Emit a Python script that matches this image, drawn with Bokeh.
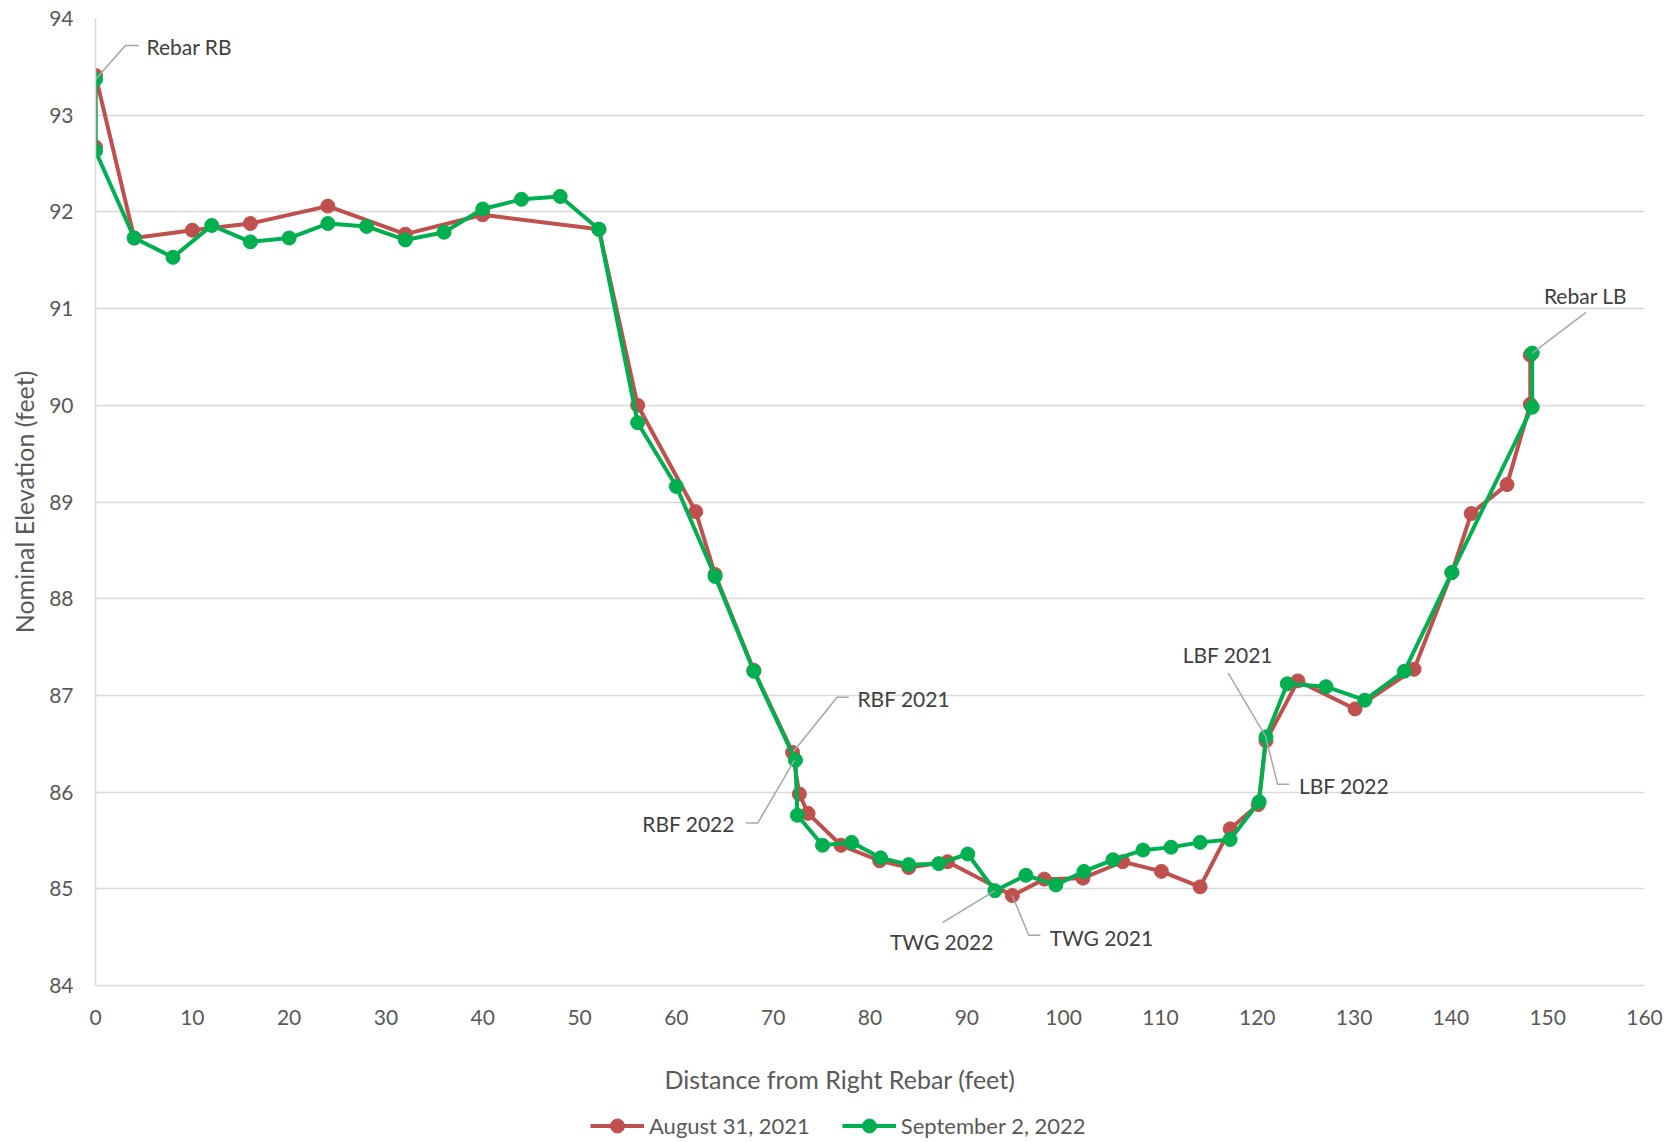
from bokeh.plotting import figure
from bokeh.layouts import column
from bokeh.models import (ColumnDataSource, Range1d, FixedTicker, Legend, LegendItem, Label)
from bokeh.core.properties import value
from bokeh.embed import file_html
from bokeh.resources import INLINE

# ---- data ----
x_2021 = [0, 0, 4, 10, 16, 24, 32, 40, 52, 56, 62, 64, 68, 72, 72.7, 73.6, 77, 81, 84, 88,
          94.7, 98, 102, 106.1, 110.1, 114.1, 117.2, 120.1, 120.9, 124.2, 130.1, 136.2,
          140.1, 142.1, 145.8, 148.2, 148.2]
y_2021 = [92.67, 93.41, 91.73, 91.81, 91.88, 92.06, 91.77, 91.97, 91.82, 90.0, 88.9, 88.25,
          87.26, 86.41, 85.98, 85.78, 85.45, 85.29, 85.22, 85.28, 84.93, 85.10, 85.11, 85.28,
          85.18, 85.02, 85.62, 85.87, 86.53, 87.15, 86.86, 87.27, 88.27, 88.88, 89.18, 90.01,
          90.52]

x_2022 = [0, 0, 4, 8, 12, 16, 20, 24, 28, 32, 36, 40, 44, 48, 52, 56, 60, 64, 68, 72.3, 72.5,
          75.1, 78.1, 81.1, 84, 87.1, 90.1, 92.9, 96.1, 99.2, 102.1, 105.1, 108.2, 111.1,
          114.1, 117.2, 120.2, 120.9, 123.1, 127.1, 131.1, 135.2, 140.1, 148.4, 148.4]
y_2022 = [93.37, 92.63, 91.73, 91.53, 91.86, 91.69, 91.73, 91.88, 91.85, 91.71, 91.79, 92.03,
          92.13, 92.16, 91.82, 89.82, 89.16, 88.23, 87.25, 86.33, 85.76, 85.45, 85.48, 85.32,
          85.25, 85.26, 85.36, 84.98, 85.14, 85.04, 85.18, 85.30, 85.40, 85.43, 85.48, 85.51,
          85.90, 86.57, 87.12, 87.09, 86.95, 87.25, 88.27, 89.98, 90.54]

series_names = ["August 31, 2021", "September 2, 2022"]
series_colors = ["#C0504D", "#00B050"]

x_ticks = [0, 10, 20, 30, 40, 50, 60, 70, 80, 90, 100, 110, 120, 130, 140, 150, 160]
y_ticks = [84, 85, 86, 87, 88, 89, 90, 91, 92, 93, 94]

x_title = "Distance from Right Rebar (feet)"
y_title = "Nominal Elevation (feet)"

# annotations: label, anchor x, anchor y, align
ann_labels = ["Rebar RB", "Rebar LB", "RBF 2021", "RBF 2022", "TWG 2022", "TWG 2021", "LBF 2021", "LBF 2022"]
ann_x = [5.26, 153.9, 78.7, 66.05, 87.4, 98.56, 116.96, 124.3]
ann_y = [93.71, 91.14, 86.97, 85.68, 84.45, 84.50, 87.42, 86.07]
ann_align = ["left", "center", "left", "right", "center", "left", "center", "left"]
lead_x = [[0, 3.09, 4.48], [148.4, 153.96], [72.1, 76.6, 77.8], [72.2, 68.4, 67.2],
          [92.9, 87.5], [94.7, 96.4, 97.6], [117.0, 120.96], [120.9, 122.1, 123.3]]
lead_y = [[93.37, 93.72, 93.72], [90.54, 90.96], [86.42, 86.98, 86.98], [86.33, 85.68, 85.68],
          [84.98, 84.65], [84.93, 84.52, 84.52], [87.23, 86.56], [86.56, 86.08, 86.08]]

FONT = "Lato"
TXT = "#595959"
W = 1669

p = figure(width=W, height=1045, x_range=Range1d(0, 160), y_range=Range1d(84, 94),
           output_backend="svg", toolbar_location=None,
           min_border_left=95, min_border_right=25, min_border_top=18, min_border_bottom=60)
p.outline_line_color = None
p.background_fill_color = "white"
p.border_fill_color = "white"

p.xgrid.grid_line_color = None
p.ygrid.grid_line_color = "#D9D9D9"
p.ygrid.grid_line_width = 1.5

p.xaxis.ticker = FixedTicker(ticks=x_ticks)
p.yaxis.ticker = FixedTicker(ticks=y_ticks)
for ax in (p.xaxis[0], p.yaxis[0]):
    ax.axis_line_color = "#D9D9D9"
    ax.axis_line_width = 1.5
    ax.major_tick_line_color = None
    ax.minor_tick_line_color = None
    ax.major_tick_out = 0
    ax.major_tick_in = 0
    ax.major_label_text_font = FONT
    ax.major_label_text_font_size = "21px"
    ax.major_label_text_color = TXT
    ax.axis_label_text_font = FONT
    ax.axis_label_text_font_size = "25px"
    ax.axis_label_text_color = TXT
    ax.axis_label_text_font_style = "normal"

p.yaxis.axis_label = y_title
p.xaxis.major_label_standoff = 24
p.yaxis.major_label_standoff = 22
p.yaxis.axis_label_standoff = 7

sources = []
for xs, ys, col in zip([x_2021, x_2022], [y_2021, y_2022], series_colors):
    src = ColumnDataSource(dict(x=xs, y=ys))
    sources.append(src)
    p.line("x", "y", source=src, line_color=col, line_width=4)
    p.scatter("x", "y", source=src, size=14, fill_color=col, line_color=col)

# leaders and labels
p.multi_line(lead_x, lead_y, line_color="#A6A6A6", line_width=1.5)
for lab, ax_, ay_, al in zip(ann_labels, ann_x, ann_y, ann_align):
    p.text(x=[ax_], y=[ay_], text=[lab], text_align=al, text_baseline="middle",
           text_font=value(FONT), text_font_size="21px", text_color="#404040")

# strip below the chart: x-axis title + legend (series drawn out of its view)
lg = figure(width=W, height=97, x_range=Range1d(-2, -1), y_range=Range1d(0, 1),
            output_backend="svg", toolbar_location=None, x_axis_type=None, y_axis_type=None,
            min_border_left=0, min_border_right=0, min_border_top=0, min_border_bottom=0)
lg.outline_line_color = None
lg.xgrid.grid_line_color = None
lg.ygrid.grid_line_color = None

lg.add_layout(Label(x=569, y=64, x_units="screen", y_units="screen", text=x_title,
                    text_align="left", text_baseline="middle", text_font=FONT,
                    text_font_size="25px", text_color=TXT))

items = []
for name, col, src in zip(series_names, series_colors, sources):
    r1 = lg.line("x", "y", source=src, line_color=col, line_width=4)
    r2 = lg.scatter("x", "y", source=src, size=14, fill_color=col, line_color=col)
    items.append(LegendItem(label=name, renderers=[r1, r2]))
legend = Legend(items=items, orientation="horizontal", location=(495, -1),
                glyph_width=54, glyph_height=35, label_height=20, label_standoff=5,
                spacing=32, padding=0, margin=0, border_line_color=None,
                background_fill_alpha=0, label_text_font=FONT,
                label_text_font_size="22px", label_text_color=TXT)
lg.add_layout(legend, "center")

open("out.html", "w").write(file_html(column(p, lg, spacing=0), INLINE))
